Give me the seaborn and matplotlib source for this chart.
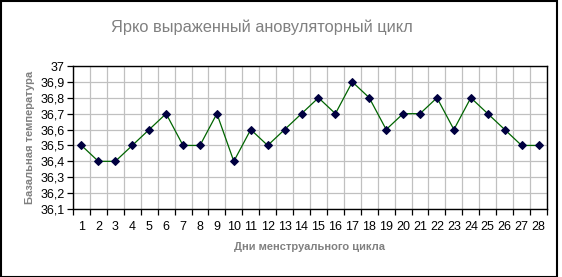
import matplotlib
matplotlib.use("Agg")
import matplotlib.pyplot as plt
import seaborn as sns
import pandas as pd
from matplotlib.ticker import FixedLocator, FuncFormatter
from matplotlib.patches import Rectangle

days = list(range(1, 29))
temps = [36.5, 36.4, 36.4, 36.5, 36.6, 36.7, 36.5, 36.5, 36.7, 36.4,
         36.6, 36.5, 36.6, 36.7, 36.8, 36.7, 36.9, 36.8, 36.6, 36.7,
         36.7, 36.8, 36.6, 36.8, 36.7, 36.6, 36.5, 36.5]
title = "Ярко выраженный ановуляторный цикл"
xlabel = "Дни менструального цикла"
ylabel = "Базальная температура"
yticks = [36.1, 36.2, 36.3, 36.4, 36.5, 36.6, 36.7, 36.8, 36.9, 37.0]

sns.set_style("white")
plt.rcParams['font.family'] = ['Liberation Sans', 'DejaVu Sans']

df = pd.DataFrame({"day": days, "temp": temps})

fig = plt.figure(figsize=(5.62, 2.77), dpi=100)
ax = fig.add_axes([73/562, 1-209/277, (547-73)/562, (209-66)/277])

sns.lineplot(data=df, x="day", y="temp", ax=ax, color="#006400", linewidth=0.9,
             marker="D", markersize=4, markerfacecolor="#000040",
             markeredgecolor="#000040", zorder=3)

ax.set_xlim(0.5, 28.5)
ax.set_ylim(36.1, 37.0)
ax.xaxis.set_major_locator(FixedLocator(days))
ax.xaxis.set_minor_locator(FixedLocator([d + 0.5 for d in range(0, 29)]))
ax.yaxis.set_major_locator(FixedLocator(yticks))
ax.yaxis.set_major_formatter(FuncFormatter(lambda v, p: ("%g" % round(v, 1)).replace(".", ",")))

ax.grid(False)
ax.grid(True, which="minor", axis="x", color="#c0c0c0", linewidth=0.9)
ax.grid(True, which="major", axis="y", color="#c0c0c0", linewidth=0.9)
ax.set_axisbelow(True)

ax.tick_params(axis="x", which="major", length=0, labelsize=9, pad=9, colors="black")
ax.tick_params(axis="x", which="minor", length=4, width=0.9, direction="out", color="black", bottom=True)
ax.tick_params(axis="y", which="major", length=4, width=0.9, direction="out", labelsize=9, pad=2, colors="black", left=True)

for s in ax.spines.values():
    s.set_visible(True)
    s.set_color("black")
    s.set_linewidth(1.0)

ax.set_xlabel(xlabel, fontsize=8, fontweight="bold", color="#808080", labelpad=6)
ax.set_ylabel(ylabel, fontsize=8, fontweight="bold", color="#808080", labelpad=4)
fig.text(262/562, 1-27/277, title, fontsize=11.8, color="#808080", ha="center", va="center")

fig.patches.append(Rectangle((0.5/562, 0.5/277), 556/562, 275.5/277, transform=fig.transFigure,
                             fill=False, edgecolor="black", linewidth=1.5))

fig.savefig("out.png", dpi=100)
